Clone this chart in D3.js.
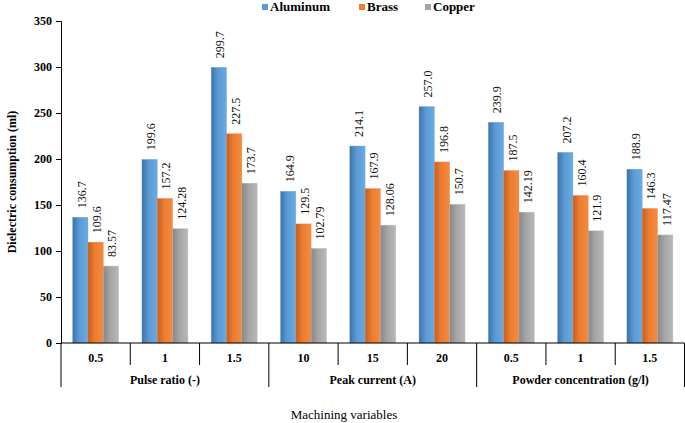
<!DOCTYPE html>
<html>
<head>
<meta charset="utf-8">
<script src="https://cdn.jsdelivr.net/npm/d3@7"></script>
<style>
  body { margin: 0; background: #fff; }
  text { font-family: "Liberation Serif" !important; }
</style>
</head>
<body>
<div id="chart"></div>
<script>
const width = 685;
const height = 423;
const fontName = '"Liberation Serif"';

// data
const series = ['Aluminum', 'Brass', 'Copper'];
const groups = ['Pulse ratio (-)', 'Peak current (A)', 'Powder concentration (g/l)'];
const levels = ['0.5', '1', '1.5', '10', '15', '20', '0.5', '1', '1.5'];
const aluminum = ['136.7', '199.6', '299.7', '164.9', '214.1', '257.0', '239.9', '207.2', '188.9'];
const brass = ['109.6', '157.2', '227.5', '129.5', '167.9', '196.8', '187.5', '160.4', '146.3'];
const copper = ['83.57', '124.28', '173.7', '102.79', '128.06', '150.7', '142.19', '121.9', '117.47'];
const yTicks = [0, 50, 100, 150, 200, 250, 300, 350];

const values = [aluminum, brass, copper];
const colors = {
    Aluminum: ['#3d72a8', '#5b9bd5', '#6aa9e2'],
    Brass: ['#c2601f', '#ed7d31', '#f28b42'],
    Copper: ['#878787', '#a5a5a5', '#b8b8b8']
};

const margin = {top: 21, right: 0.5, bottom: 80, left: 61};
const y0 = height - margin.bottom;

const cats = levels.map((d, i) => i);

const x0 = d3.scaleBand()
    .domain(cats)
    .range([margin.left, width - margin.right]);

const x1 = d3.scaleBand()
    .domain(series)
    .range([0, x0.bandwidth()])
    .paddingInner(0)
    .paddingOuter(0.76);

const y = d3.scaleLinear()
    .domain([0, 350])
    .range([y0, margin.top]);

const svg = d3.select('#chart')
    .append('svg')
    .attr('width', width)
    .attr('height', height);

const defs = svg.append('defs');
series.forEach(s => {
    const g = defs.append('linearGradient')
        .attr('id', 'grad-' + s)
        .attr('x1', '0%').attr('x2', '100%')
        .attr('y1', '0%').attr('y2', '0%');
    g.append('stop').attr('offset', '0%').attr('stop-color', colors[s][0]);
    g.append('stop').attr('offset', '45%').attr('stop-color', colors[s][1]);
    g.append('stop').attr('offset', '100%').attr('stop-color', colors[s][2]);
});

// bars
const cat = svg.append('g')
    .selectAll('g')
    .data(cats)
    .join('g')
    .attr('transform', i => `translate(${x0(i)},0)`);

cat.selectAll('rect')
    .data(i => series.map((s, k) => ({s, v: +values[k][i]})))
    .join('rect')
    .attr('x', d => x1(d.s))
    .attr('y', d => y(d.v))
    .attr('width', x1.bandwidth())
    .attr('height', d => y0 - y(d.v))
    .attr('fill', d => `url(#grad-${d.s})`)
    .attr('stroke', d => colors[d.s][2])
    .attr('stroke-opacity', 0.6)
    .attr('stroke-width', 0.6);

// value labels
cat.selectAll('text.val')
    .data(i => series.map((s, k) => ({s, t: values[k][i]})))
    .join('text')
    .attr('class', 'val')
    .attr('transform', d => `translate(${x1(d.s) + x1.bandwidth() / 2 + 5.5},${y(+d.t) - 9}) rotate(-90)`)
    .style('font-family', fontName)
    .attr('font-size', 12)
    .attr('fill', '#111')
    .text(d => d.t);

// y axis
const yAxis = svg.append('g')
    .attr('transform', `translate(${margin.left},0)`)
    .call(d3.axisLeft(y).tickValues(yTicks).tickSize(5).tickPadding(4));
yAxis.attr('font-family', null);
yAxis.select('.domain').attr('stroke', '#000');
yAxis.selectAll('.tick line').attr('stroke', '#000');
yAxis.selectAll('.tick text')
    .attr('fill', '#000')
    .style('font-family', fontName)
    .style('font-size', '12px')
    .style('font-weight', 'bold');

// x axis: baseline, category and group labels
svg.append('line')
    .attr('x1', margin.left).attr('x2', width - margin.right)
    .attr('y1', y0).attr('y2', y0)
    .attr('stroke', '#000');

svg.append('g')
    .selectAll('text')
    .data(cats)
    .join('text')
    .attr('x', i => x0(i) + x0.bandwidth() / 2)
    .attr('y', y0 + 19)
    .attr('text-anchor', 'middle')
    .style('font-family', fontName)
    .attr('font-size', 12)
    .attr('font-weight', 'bold')
    .text(i => levels[i]);

const perGroup = levels.length / groups.length;
const edges = d3.range(levels.length + 1);
svg.append('g')
    .selectAll('line')
    .data(edges)
    .join('line')
    .attr('x1', i => i === levels.length ? width - margin.right : x0(i))
    .attr('x2', i => i === levels.length ? width - margin.right : x0(i))
    .attr('y1', y0)
    .attr('y2', i => i % perGroup === 0 ? y0 + 44 : y0 + 22)
    .attr('stroke', '#000');

svg.append('g')
    .selectAll('text')
    .data(groups)
    .join('text')
    .attr('x', (g, k) => (x0(k * perGroup) + x0((k + 1) * perGroup - 1) + x0.bandwidth()) / 2)
    .attr('y', y0 + 41)
    .attr('text-anchor', 'middle')
    .style('font-family', fontName)
    .attr('font-size', 12)
    .attr('font-weight', 'bold')
    .text(g => g);

// axis titles
svg.append('text')
    .attr('x', (margin.left + width) / 2 - 29)
    .attr('y', 419)
    .attr('text-anchor', 'middle')
    .style('font-family', fontName)
    .attr('font-size', 13)
    .text('Machining variables');

svg.append('text')
    .attr('transform', `translate(16,${(margin.top + y0) / 2}) rotate(-90)`)
    .attr('text-anchor', 'middle')
    .style('font-family', fontName)
    .attr('font-size', 12)
    .attr('font-weight', 'bold')
    .text('Dielectric consumption (ml)');

// legend
const legendX = [262, 359, 425];
const legend = svg.append('g')
    .selectAll('g')
    .data(series)
    .join('g')
    .attr('transform', (s, k) => `translate(${legendX[k]},0)`);

legend.append('rect')
    .attr('x', 0).attr('y', 4)
    .attr('width', 6).attr('height', 6)
    .attr('fill', s => colors[s][1]);

legend.append('text')
    .attr('x', 8)
    .attr('y', 11)
    .style('font-family', fontName)
    .attr('font-size', 13)
    .attr('font-weight', 'bold')
    .text(s => s);
</script>
</body>
</html>
